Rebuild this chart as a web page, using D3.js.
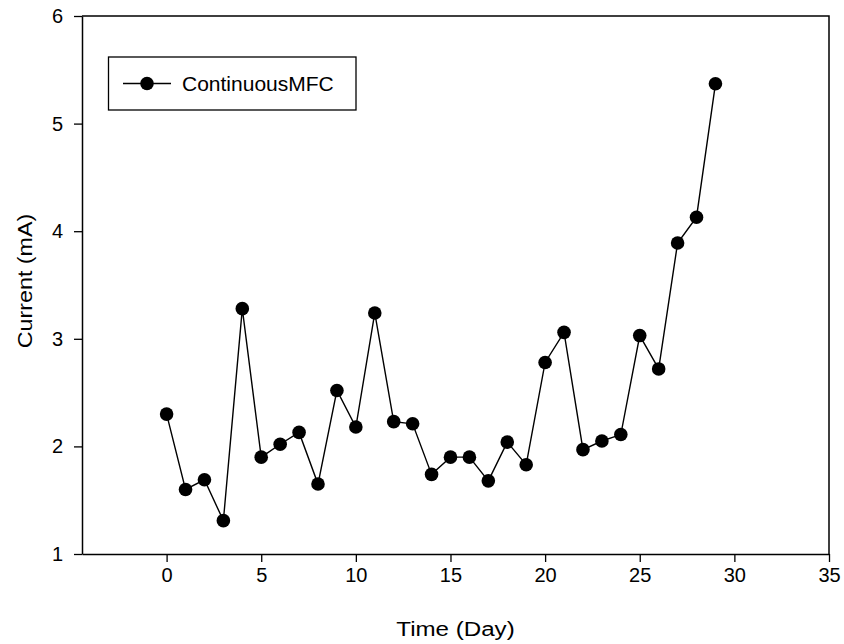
<!DOCTYPE html>
<html>
<head>
<meta charset="utf-8">
<script src="https://cdn.jsdelivr.net/npm/d3@7"></script>
<style>
  body { margin: 0; background: #fff; }
  text { font-family: "Liberation Sans", Arial, sans-serif; fill: #000; }
</style>
</head>
<body>
<script>
// data
var days = [0, 1, 2, 3, 4, 5, 6, 7, 8, 9, 10, 11, 12, 13, 14, 15, 16, 17, 18, 19,
            20, 21, 22, 23, 24, 25, 26, 27, 28, 29];
var current = [2.30, 1.60, 1.69, 1.31, 3.28, 1.90, 2.02, 2.13, 1.65, 2.52, 2.18, 3.24,
               2.23, 2.21, 1.74, 1.90, 1.90, 1.68, 2.04, 1.83, 2.78, 3.06, 1.97, 2.05,
               2.11, 3.03, 2.72, 3.89, 4.13, 5.37];
var xTicks = [0, 5, 10, 15, 20, 25, 30, 35];
var yTicks = [1, 2, 3, 4, 5, 6];
var seriesName = "ContinuousMFC";

var w = 844;
var h = 644;

// plot area edges
const margin = {top: 16, bottom: 90, left: 82, right: 15};

var svg = d3.select("body")
            .append("svg")
            .attr("width", w)
            .attr("height", h);

var xScale = d3.scaleLinear()
               .domain([-4.47, 35])
               .range([margin.left, w - margin.right]);

var yScale = d3.scaleLinear()
               .domain([1, 6])
               .range([h - margin.bottom, margin.top]);

// frame: top and right lines
svg.append("path")
   .attr("d", "M" + xScale.range()[0] + "," + yScale(6) + "H" + xScale(35) + "V" + yScale(1))
   .attr("fill", "none")
   .attr("stroke", "#000")
   .attr("stroke-width", 1.5);

// x axis
var xAxis = d3.axisBottom(xScale)
              .tickValues(xTicks)
              .tickSize(8)
              .tickSizeOuter(0)
              .tickPadding(6)
              .tickFormat(d3.format("d"));

var gx = svg.append("g")
   .attr("transform", "translate(0," + yScale(1) + ")")
   .call(xAxis);

// y axis
var yAxis = d3.axisLeft(yScale)
              .tickValues(yTicks)
              .tickSize(8)
              .tickSizeOuter(0)
              .tickPadding(11)
              .tickFormat(d3.format("d"));

var gy = svg.append("g")
   .attr("transform", "translate(" + margin.left + ",0)")
   .call(yAxis);

[gx, gy].forEach(function(g) {
  g.select(".domain").attr("stroke-width", 1.5);
  g.selectAll(".tick line").attr("stroke-width", 1.3);
  g.selectAll(".tick text")
   .attr("font-size", "20px")
   .attr("font-family", "Liberation Sans, Arial, sans-serif");
});

// line through points
var line = d3.line()
             .x(function(d, i) { return xScale(days[i]); })
             .y(function(d) { return yScale(d); });

svg.append("path")
   .datum(current)
   .attr("d", line)
   .attr("fill", "none")
   .attr("stroke", "#000")
   .attr("stroke-width", 1.4);

svg.selectAll("circle.pt")
   .data(current)
   .enter()
   .append("circle")
   .attr("class", "pt")
   .attr("cx", function(d, i) { return xScale(days[i]); })
   .attr("cy", function(d) { return yScale(d); })
   .attr("r", 6.8)
   .attr("fill", "#000");

// axis titles (the original text is a bit wider than the font)
svg.append("text")
   .attr("transform", "translate(" + ((xScale.range()[0] + xScale.range()[1]) / 2) + ",636) scale(1.15,1)")
   .attr("text-anchor", "middle")
   .attr("font-size", "21px")
   .text("Time (Day)");

svg.append("text")
   .attr("transform", "translate(32," + ((yScale(1) + yScale(6)) / 2 - 4) + ") rotate(-90) scale(1.11,1)")
   .attr("text-anchor", "middle")
   .attr("font-size", "21px")
   .text("Current (mA)");

// legend
var legend = svg.append("g");

legend.append("rect")
      .attr("x", 108.5)
      .attr("y", 57)
      .attr("width", 247.5)
      .attr("height", 53)
      .attr("fill", "#fff")
      .attr("stroke", "#000")
      .attr("stroke-width", 1.3);

legend.append("line")
      .attr("x1", 123)
      .attr("x2", 171)
      .attr("y1", 83.5)
      .attr("y2", 83.5)
      .attr("stroke", "#000")
      .attr("stroke-width", 1.4);

legend.append("circle")
      .attr("cx", 147)
      .attr("cy", 83.5)
      .attr("r", 6.8)
      .attr("fill", "#000");

legend.append("text")
      .attr("x", 182)
      .attr("y", 91)
      .attr("font-size", "21px")
      .text(seriesName);
</script>
</body>
</html>
